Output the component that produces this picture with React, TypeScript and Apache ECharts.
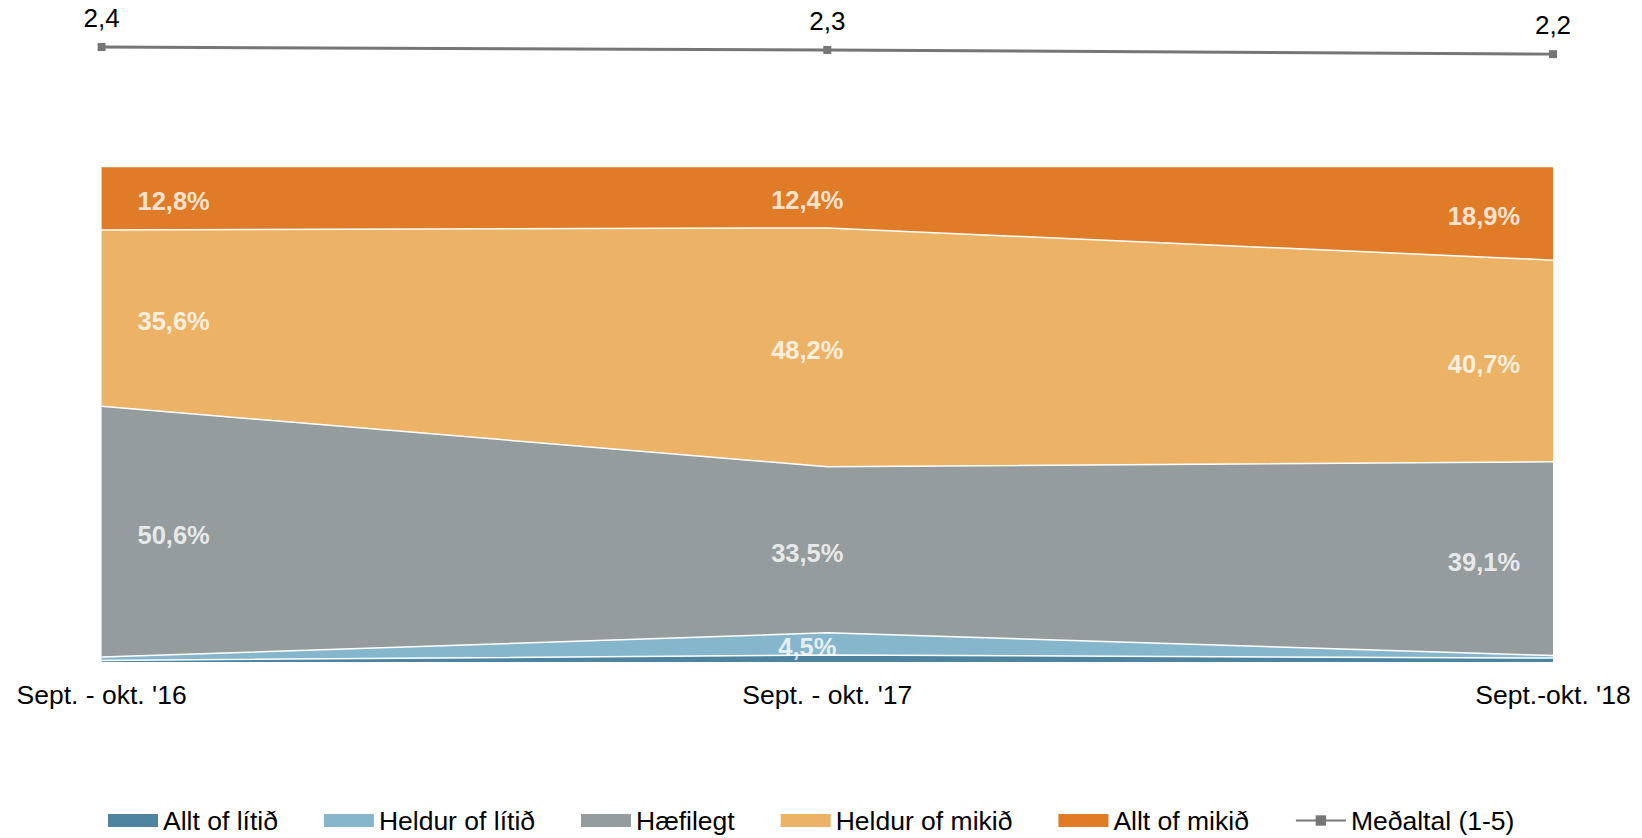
import React, { useEffect, useRef } from "react";
import * as echarts from "echarts";

const categories = ["Sept. - okt. '16", "Sept. - okt. '17", "Sept.-okt. '18"];
const alltOfLitid = [0.3, 1.4, 0.8];
const heldurOfLitid = [0.7, 4.5, 0.5];
const haefilegt = [50.6, 33.5, 39.1];
const heldurOfMikid = [35.6, 48.2, 40.7];
const alltOfMikid = [12.8, 12.4, 18.9];
const medaltal = [2.4, 2.32, 2.21];

const seriesNames = ["Allt of lítið", "Heldur of lítið", "Hæfilegt", "Heldur of mikið", "Allt of mikið"];
const lineName = "Meðaltal (1-5)";

const COLORS = ["#4E84A0", "#86B6CC", "#959C9E", "#ECB266", "#E07C28"];
const LINE_COLOR = "#767676";
const FONT = "Arial, 'Liberation Sans', sans-serif";
const COL_OFFSETS = [72, -20, -69];

const fmt = (v: number) => v.toFixed(1).replace(".", ",");

export default function App() {
  const ref = useRef<HTMLDivElement>(null);
  useEffect(() => {
    if (!ref.current) return;
    const chart = echarts.init(ref.current, undefined, { renderer: "svg" });
    const stackData = [alltOfLitid, heldurOfLitid, haefilegt, heldurOfMikid, alltOfMikid];

    const labelPoints: any[] = [];
    categories.forEach((_, j) => {
      let cum = 0;
      stackData.forEach((arr) => {
        const v = arr[j];
        if (v >= 4) {
          labelPoints.push({
            value: [j, cum + v / 2, v],
            label: { offset: [COL_OFFSETS[j], 3] },
          });
        }
        cum += v;
      });
    });

    const areaSeries = stackData.map((arr, i) => ({
      name: seriesNames[i],
      type: "line",
      stack: "total",
      xAxisIndex: 0,
      yAxisIndex: 0,
      data: arr,
      symbol: "none",
      smooth: false,
      color: COLORS[i],
      itemStyle: { color: COLORS[i] },
      lineStyle: { color: "#ffffff", width: 1.5 },
      areaStyle: { color: COLORS[i], opacity: 1 },
      z: 2,
    }));

    chart.setOption({
      animation: false,
      grid: [
        { left: 101.6, right: 89, top: 166.5, bottom: 176 },
        { left: 101.6, right: 89, top: 39.5, height: 22.5 },
      ],
      xAxis: [
        {
          type: "category",
          gridIndex: 0,
          data: categories,
          boundaryGap: false,
          axisLine: { show: false },
          axisTick: { show: false },
          axisLabel: { interval: 0, color: "#000", fontSize: 26.5, fontFamily: FONT, margin: 19 },
          splitLine: { show: false },
        },
        {
          type: "category",
          gridIndex: 1,
          data: categories,
          boundaryGap: false,
          show: false,
        },
      ],
      yAxis: [
        { type: "value", gridIndex: 0, min: 0, max: 100, show: false },
        { type: "value", gridIndex: 1, min: 2.0, max: 2.6, show: false },
      ],
      legend: {
        left: 103,
        top: 802,
        itemWidth: 50,
        itemHeight: 13,
        itemGap: 46,
        textStyle: { color: "#000", fontSize: 26.5, fontFamily: FONT },
        data: [
          ...seriesNames.map((n, i) => ({ name: n, icon: "rect", itemStyle: { color: COLORS[i] } })),
          { name: lineName },
        ],
      },
      series: [
        ...areaSeries,
        {
          name: "labels",
          type: "scatter",
          xAxisIndex: 0,
          yAxisIndex: 0,
          symbolSize: 0,
          data: labelPoints,
          silent: true,
          z: 5,
          label: {
            show: true,
            position: "inside",
            color: "#fff",
            fontWeight: "bold",
            fontSize: 25.5,
            fontFamily: FONT,
            formatter: (p: any) => fmt(p.value[2]) + "%",
          },
        },
        {
          name: lineName,
          type: "line",
          xAxisIndex: 1,
          yAxisIndex: 1,
          data: medaltal,
          symbol: "rect",
          symbolSize: 8,
          color: LINE_COLOR,
          itemStyle: { color: LINE_COLOR },
          lineStyle: { color: LINE_COLOR, width: 3 },
          label: {
            show: true,
            position: "top",
            distance: 12,
            color: "#000",
            fontSize: 26,
            fontFamily: FONT,
            formatter: (p: any) => fmt(p.value),
          },
        },
      ],
    });
    return () => chart.dispose();
  }, []);
  return (
    <div
      ref={ref}
      style={{ position: "fixed", left: 0, top: 0, width: 1642, height: 838, background: "#fff" }}
    />
  );
}
